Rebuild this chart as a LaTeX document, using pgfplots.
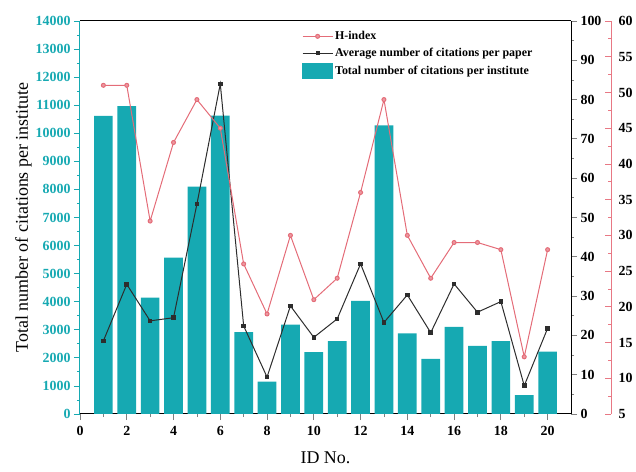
\documentclass[border=0pt]{standalone}
\usepackage{fontspec}
\setmainfont{Liberation Serif}
\usepackage{pgfplots}
\pgfplotsset{compat=1.18}
\definecolor{teal1}{RGB}{22,169,178}
\definecolor{hred}{RGB}{228,108,120}
\definecolor{rax}{RGB}{232,120,132}
\definecolor{dk}{RGB}{45,45,45}
\begin{document}
\begin{tikzpicture}
\pgfplotsset{
  myax/.style={
    scale only axis, width=491bp, height=393bp, xmin=0, xmax=21,
    tick align=outside,
    scaled y ticks=false, scaled x ticks=false,
    /pgf/number format/assume math mode=true,
    /pgf/number format/1000 sep={},
    xticklabel={\pgfmathprintnumber{\tick}},
    yticklabel={\pgfmathprintnumber{\tick}},
    every tick label/.append style={font=\fontsize{14}{16}\selectfont\bfseries},
    label style={font=\fontsize{18}{20}\selectfont},
    major tick length=6bp, minor tick length=3bp,
    every tick/.append style={line width=0.8bp},
    axis line style={line width=1bp},
  },
}
\path (-80bp,-58bp) rectangle (556bp,414bp);
% Axis 1: bars, left axis
\begin{axis}[myax,
  axis y line*=left,
  xtick pos=left,
  ymin=0, ymax=14000, ytick={0,1000,...,14000}, minor y tick num=1,
  xtick={0,2,...,20}, minor x tick num=1,
  y axis line style={teal1},
  ytick style={teal1},
  yticklabel style={teal1},
  xticklabel style={yshift=-3bp},
  xlabel style={yshift=-9bp},
  ylabel style={yshift=-3bp},
  xlabel={ID No.}, ylabel={Total number of citations per institute},
]
\addplot[ybar, bar width=0.8, fill=teal1, draw=none] coordinates {
(1,10620) (2,10970) (3,4150) (4,5570) (5,8100) (6,10630) (7,2920) (8,1150)
(9,3180) (10,2200) (11,2600) (12,4030) (13,10280) (14,2870) (15,1960)
(16,3100) (17,2430) (18,2600) (19,670) (20,2220)};
\end{axis}
% Axis 2: average citations per paper, right axis
\begin{axis}[myax,
  hide x axis, axis y line*=right,
  ymin=0, ymax=100, ytick={0,10,...,100}, minor y tick num=1,
]
\addplot[dk, line width=1bp, mark=square*, mark size=1.8bp] coordinates {
(1,18.6) (2,33.0) (3,23.7) (4,24.5) (5,53.4) (6,84.0) (7,22.4) (8,9.4)
(9,27.5) (10,19.5) (11,24.2) (12,38.2) (13,23.3) (14,30.3) (15,20.7)
(16,33.1) (17,25.9) (18,28.6) (19,7.2) (20,21.8)};
\end{axis}
% Axis 3: H-index
\begin{axis}[myax,
  hide x axis, hide y axis,
  ymin=5, ymax=60,
  legend cell align=left,
  legend style={draw=none, fill=none, at={(0.452,0.979)}, anchor=north west,
    font=\fontsize{12}{13}\selectfont\bfseries, row sep=3bp, inner sep=0pt,
    /tikz/every even column/.append style={column sep=2bp}},
  legend image code/.code={\draw[mark repeat=2,mark phase=2] plot coordinates {(0bp,0bp) (15bp,0bp) (30bp,0bp)};},
]
\addplot[hred, line width=1bp, mark=*, mark size=2bp, mark options={fill=hred!70}] coordinates {
(1,51) (2,51) (3,32) (4,43) (5,49) (6,45) (7,26) (8,19) (9,30) (10,21)
(11,24) (12,36) (13,49) (14,30) (15,24) (16,29) (17,29) (18,28) (19,13) (20,28)};
\addlegendentry{H-index}
\addlegendimage{dk, line width=1bp, mark=square*, mark size=1.6bp}
\addlegendentry{Average number of citations per paper}
\addlegendimage{legend image code/.code={\fill[teal1] (0bp,-7.5bp) rectangle (30bp,7.5bp);}}
\addlegendentry{Total number of citations per institute}
\end{axis}
% Axis 4: H-index scale
\begin{axis}[myax,
  at={(40bp,0)},
  hide x axis, axis y line*=right,
  ymin=5, ymax=60, ytick={5,10,...,60}, minor y tick num=1,
  tick align=inside,
  y axis line style={rax}, ytick style={rax},
  yticklabel style={black, xshift=4bp},
]
\end{axis}
\end{tikzpicture}
\end{document}
